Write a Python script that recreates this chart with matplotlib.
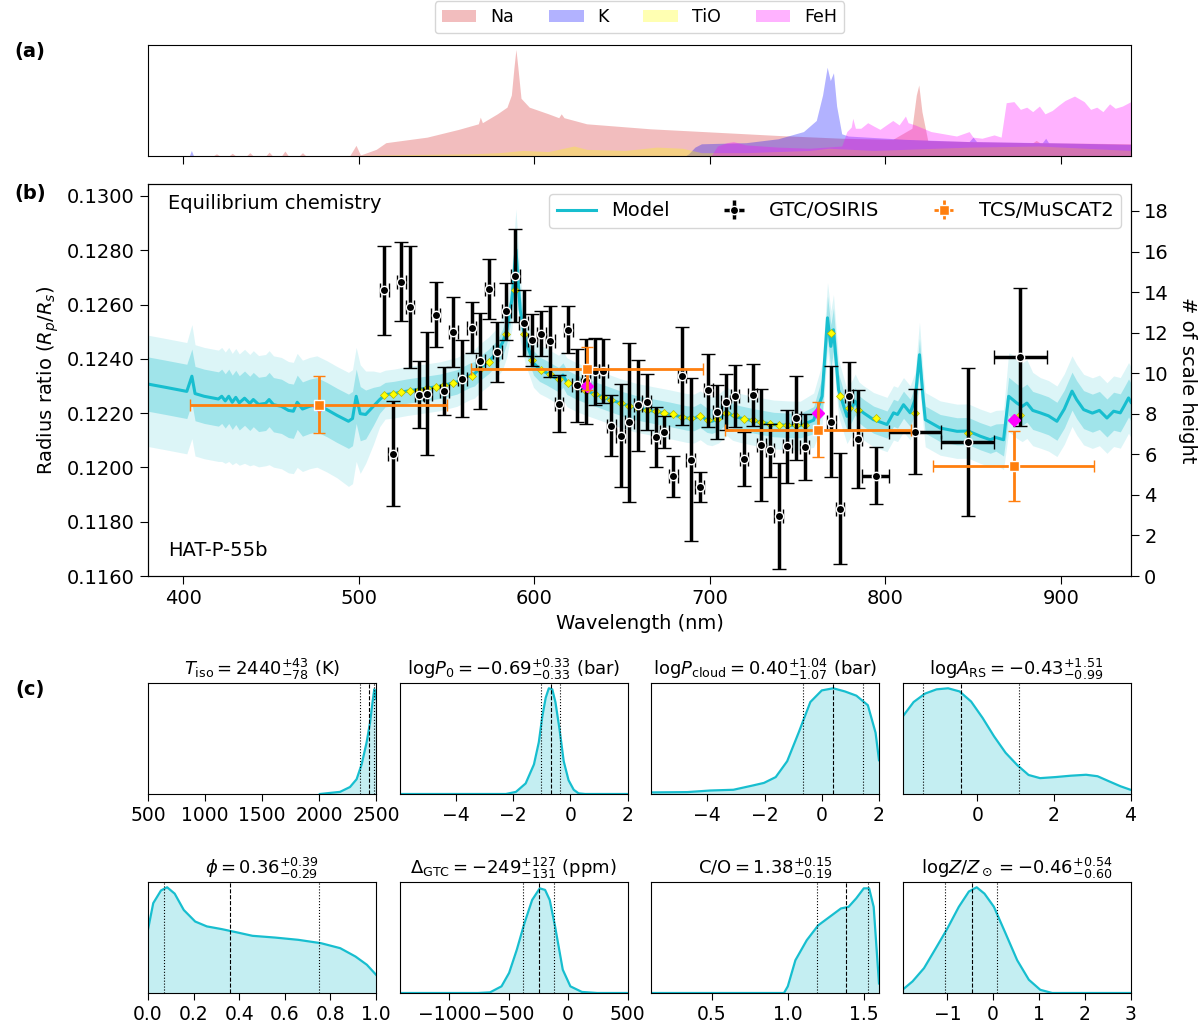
import matplotlib
matplotlib.use("Agg")
import matplotlib.pyplot as plt
from matplotlib.lines import Line2D

# ---------------- panel (a): normalised opacity contributions ----------------
na_wl = [380, 417, 419, 421, 426, 428, 430, 436, 438, 440, 447, 449, 451, 456, 458, 460,
         466, 468, 470, 495, 498.5, 501, 503, 510, 515.5, 539, 557, 568.2, 569.3, 570.5,
         579, 584.5, 587, 588.5, 589.6, 590.7, 592.5, 597.2, 608.1, 614, 615.4, 617,
         629.9, 666.2, 702.6, 738.9, 775.2, 804.3, 815.2, 817.7, 819.1, 820.9, 824.2,
         847.8, 884.1, 886, 888, 939.7]
na_op = [0, 0, 0.02, 0, 0, 0.025, 0, 0, 0.03, 0, 0, 0.035, 0, 0, 0.045, 0,
         0, 0.03, 0, 0.005, 0.096, 0.01, 0.02, 0.06, 0.12, 0.17, 0.24, 0.29, 0.35, 0.30,
         0.38, 0.44, 0.55, 0.80, 0.96, 0.80, 0.52, 0.44, 0.38, 0.345, 0.38, 0.345,
         0.29, 0.245, 0.215, 0.185, 0.16, 0.15, 0.25, 0.55, 0.64, 0.40, 0.14,
         0.13, 0.12, 0.14, 0.12, 0.11]

k_wl = [380, 403.5, 404.7, 406, 686, 688, 691.6, 695.3, 720.7, 738.9, 753.4, 760.7,
        764.3, 766.9, 768.7, 770.5, 772.3, 775.2, 778.9, 811.5, 847.8, 850, 852,
        889.5, 891.4, 893, 939.7]
k_op = [0, 0, 0.05, 0, 0, 0.02, 0.08, 0.11, 0.12, 0.155, 0.22, 0.32,
        0.55, 0.80, 0.68, 0.75, 0.45, 0.20, 0.18, 0.15, 0.13, 0.17, 0.13,
        0.12, 0.16, 0.12, 0.105]

tio_wl = [380, 500, 513.7, 539.1, 564.5, 580, 593.6, 608.1, 622.7, 629.9, 651.7, 669.9,
          684.4, 695.3, 720.7, 757.0, 767.9, 793.4, 847.8, 887.7, 939.7]
tio_op = [0, 0.005, 0.01, 0.015, 0.02, 0.03, 0.05, 0.04, 0.09, 0.06, 0.05, 0.08,
          0.07, 0.03, 0.03, 0.05, 0.07, 0.05, 0.08, 0.09, 0.05]

feh_wl = [700.7, 704.4, 709.8, 713.5, 720.7, 738.9, 757.0, 775.2, 778.1, 780.6, 781.5,
          783, 786.1, 790, 793.4, 797, 800.6, 804.3, 807.9, 811.5, 813, 817.0, 826.1,
          833.4, 840.6, 847.8, 850, 855.1, 862, 866.0, 868.9, 873.3, 877, 880.6, 884,
          887.8, 891, 895.1, 899, 902.4, 907.8, 913.3, 917, 920.5, 924, 927.8, 931,
          935.1, 939.9]
feh_op = [0, 0.09, 0.12, 0.13, 0.10, 0.08, 0.07, 0.09, 0.22, 0.26, 0.34,
          0.25, 0.25, 0.30, 0.27, 0.24, 0.28, 0.32, 0.28, 0.36, 0.30, 0.28, 0.22,
          0.20, 0.18, 0.22, 0.17, 0.16, 0.19, 0.17, 0.48, 0.49, 0.42, 0.44, 0.40,
          0.45, 0.38, 0.41, 0.46, 0.50, 0.54, 0.49, 0.42, 0.44, 0.40, 0.47, 0.43,
          0.45, 0.49]

# ---------------- panel (b): retrieved model and data ----------------
model_wl = [380.0, 390.0, 402.1, 405.0, 406.8, 412.0, 420.1, 422.0, 424.0, 426.0,
            428.0, 430.0, 432.0, 435.0, 438.0, 440.0, 443.0, 447.0, 449.0, 451.5,
            456.0, 460.0, 462.8, 465.0, 468.0, 472.0, 476.2, 481.9, 487.6, 494.2,
            496.5, 498.6, 500.9, 504.0, 508.4, 512.0, 515.1, 520.0, 527.5, 537.0,
            546.4, 556.0, 563.5, 566.0, 569.2, 574.0, 578.7, 582.0, 584.4, 587.3,
            588.6, 589.6, 590.5, 592.0, 594.9, 599.6, 603.0, 607.2, 613.9, 616.4,
            618.6, 624.0, 630.0, 640.0, 649.0, 658.0, 668.0, 677.0, 687.0, 691.0,
            694.6, 698.4, 701.2, 705.0, 709.8, 713.0, 717.4, 726.0, 736.4, 745.0,
            751.6, 759.2, 764.0, 767.1, 769.0, 770.5, 773.4, 778.2, 781.0, 782.9,
            785.0, 787.6, 793.3, 801.0, 804.7, 807.0, 810.4, 814.2, 817.0, 819.5,
            821.5, 822.8, 831.3, 840.9, 847.3, 854.1, 859.8, 863.0, 867.4, 870.3,
            875.0, 878.0, 880.7, 884.0, 888.3, 893.0, 897.8, 902.0, 906.4, 909.0,
            913.0, 918.0, 922.0, 926.3, 930.1, 933.9, 936.0, 938.6, 940.0]
model_rp = [0.12307, 0.12295, 0.12280, 0.12336, 0.12272, 0.12262, 0.12252, 0.12262, 0.12245, 0.12262,
            0.12240, 0.12258, 0.12238, 0.12255, 0.12236, 0.12250, 0.12232, 0.12236, 0.12250, 0.12231,
            0.12225, 0.12210, 0.12207, 0.12240, 0.12215, 0.12225, 0.12231, 0.12213, 0.12192, 0.12170,
            0.12180, 0.12262, 0.12198, 0.12195, 0.12225, 0.12250, 0.12268, 0.12272, 0.12281, 0.12290,
            0.12299, 0.12315, 0.12340, 0.12345, 0.12366, 0.12390, 0.12422, 0.12460, 0.12507, 0.12618,
            0.12720, 0.12802, 0.12720, 0.12581, 0.12471, 0.12385, 0.12362, 0.12348, 0.12323, 0.12340,
            0.12314, 0.12296, 0.12281, 0.12258, 0.12237, 0.12220, 0.12207, 0.12196, 0.12182, 0.12180,
            0.12192, 0.12174, 0.12170, 0.12180, 0.12207, 0.12190, 0.12182, 0.12170, 0.12158, 0.12155,
            0.12154, 0.12174, 0.12262, 0.12551, 0.12446, 0.12507, 0.12286, 0.12188, 0.12220, 0.12244,
            0.12215, 0.12201, 0.12176, 0.12158, 0.12201, 0.12195, 0.12231, 0.12201, 0.12250, 0.12415,
            0.12260, 0.12176, 0.12145, 0.12133, 0.12134, 0.12115, 0.12102, 0.12110, 0.12102, 0.12262,
            0.12237, 0.12225, 0.12237, 0.12210, 0.12201, 0.12190, 0.12170, 0.12215, 0.12281, 0.12250,
            0.12213, 0.12200, 0.12210, 0.12182, 0.12207, 0.12201, 0.12225, 0.12256, 0.12240]
# 1-sigma half width, 2-sigma upper and lower widths (units of 1e-4 in Rp/Rs)
model_s1 = [10, 10, 10, 10, 10, 10, 10, 10, 10, 10,
            10, 10, 10, 10, 10, 10, 10, 10, 10, 10,
            10, 10, 10, 10, 10, 10, 10, 10, 10, 10,
            10, 10, 10, 9, 7, 5, 4.5, 4.5, 4.5, 4.5,
            4.5, 4.5, 4.5, 4.5, 4.5, 4.5, 4.5, 5, 5, 6,
            6, 6, 6, 6, 4.5, 4.5, 4.5, 4.5, 4.5, 4.5,
            4.5, 4.5, 4.5, 4.5, 4.5, 4.5, 4.5, 4.5, 4.5, 4.5,
            4.5, 4.5, 4.5, 4.5, 4.5, 4.5, 4.5, 4.5, 4.5, 4.5,
            4.5, 5, 7, 8, 8, 8, 6, 5, 5, 5,
            5, 5, 5, 5, 5, 5, 5, 5, 5, 6,
            5, 5, 5, 5, 5, 5, 5, 5, 6, 7,
            7, 7, 7, 7, 7, 7, 7, 7, 7, 7,
            7, 7, 7, 7, 7, 7, 7, 7, 7]
model_s2u = [18, 18, 18, 19, 18, 18, 18, 18, 18, 18,
             18, 18, 18, 18, 18, 18, 18, 18, 18, 18,
             18, 18, 18, 18, 18, 18, 18, 18, 18, 18,
             18, 18, 18, 16, 13, 10, 9, 9, 9, 9,
             9, 9, 9, 9, 9, 9, 9, 10, 10, 12,
             14, 15, 14, 12, 9, 9, 9, 9, 9, 9,
             9, 9, 9, 9, 9, 9, 9, 9, 9, 9,
             9, 9, 9, 9, 9, 9, 9, 9, 9, 9,
             9, 10, 12, 13, 13, 13, 11, 10, 10, 10,
             10, 10, 10, 10, 10, 10, 10, 10, 10, 12,
             10, 10, 10, 10, 10, 10, 10, 10, 11, 16,
             17, 16, 16, 14, 13, 13, 13, 13, 13, 13,
             13, 13, 13, 13, 13, 13, 13, 13, 13]
model_s2d = [23, 23, 23, 23, 23, 23, 23, 24, 23, 24,
             23, 24, 23, 24, 23, 24, 23, 23, 24, 23,
             23, 23, 23, 24, 23, 23, 23, 23, 23, 24,
             24, 24, 22, 18, 14, 10, 9, 9, 9, 9,
             9, 9, 9, 9, 9, 9, 9, 10, 10, 11,
             12, 12, 12, 11, 9, 9, 9, 9, 9, 9,
             9, 9, 9, 9, 9, 9, 9, 9, 9, 9,
             9, 9, 9, 9, 9, 9, 9, 9, 9, 9,
             9, 10, 11, 12, 12, 12, 10, 10, 10, 10,
             10, 10, 10, 10, 10, 10, 10, 10, 10, 11,
             10, 10, 10, 10, 10, 10, 10, 10, 11, 13,
             13, 13, 13, 13, 13, 13, 13, 13, 13, 13,
             13, 13, 13, 13, 13, 13, 13, 13, 13]

gtc_wl = [514.7, 519.3, 524.2, 529.3, 534.6, 539.2, 544.0, 548.9, 554.0, 559.1,
          564.3, 569.2, 574.4, 578.9, 584.2, 589.2, 594.1, 599.0, 604.0, 609.1,
          614.2, 619.4, 624.3, 629.5, 634.4, 639.3, 644.0, 649.2, 654.1, 659.1,
          664.1, 669.2, 674.1, 679.2, 684.2, 689.2, 694.2, 699.1, 704.3, 709.2,
          714.4, 719.5, 724.4, 729.3, 734.3, 739.4, 744.3, 749.3, 754.2, 769.2,
          774.2, 779.3, 784.2, 794.5, 817.0, 847.0, 877.0]
gtc_xerr = [2.5] * 53 + [7.5, 15.0, 15.0, 15.0]
gtc_rp = [0.12653, 0.12051, 0.12684, 0.12591, 0.12268, 0.12272, 0.12562, 0.12281, 0.12499, 0.12327,
          0.12515, 0.12391, 0.12657, 0.12425, 0.12575, 0.12706, 0.12532, 0.12468, 0.12493, 0.12465,
          0.12235, 0.12507, 0.12303, 0.12317, 0.12354, 0.12356, 0.12154, 0.12117, 0.12167, 0.12229,
          0.12241, 0.12112, 0.12131, 0.11967, 0.12338, 0.12029, 0.11928, 0.12284, 0.12203, 0.12241,
          0.12262, 0.12031, 0.12268, 0.12082, 0.12063, 0.11820, 0.12078, 0.12182, 0.12074, 0.12169,
          0.11848, 0.12262, 0.12105, 0.11970, 0.12132, 0.12094, 0.12408]
gtc_err = [0.00164, 0.00193, 0.00146, 0.00224, 0.00123, 0.00227, 0.00120, 0.00089, 0.00129, 0.00142,
           0.00094, 0.00177, 0.00109, 0.00110, 0.00106, 0.00171, 0.00122, 0.00096, 0.00083, 0.00131,
           0.00106, 0.00086, 0.00134, 0.00157, 0.00123, 0.00117, 0.00112, 0.00189, 0.00293, 0.00168,
           0.00103, 0.00111, 0.00060, 0.00076, 0.00181, 0.00301, 0.00055, 0.00135, 0.00099, 0.00104,
           0.00114, 0.00099, 0.00114, 0.00206, 0.00098, 0.00195, 0.00134, 0.00154, 0.00122, 0.00204,
           0.00204, 0.00126, 0.00181, 0.00104, 0.00157, 0.00273, 0.00254]
gtc_model = [0.12268, 0.12270, 0.12276, 0.12282, 0.12287, 0.12291, 0.12296, 0.12302, 0.12310, 0.12322,
             0.12338, 0.12362, 0.12390, 0.12420, 0.12490, 0.12655, 0.12490, 0.12395, 0.12360, 0.12343,
             0.12326, 0.12312, 0.12296, 0.12282, 0.12270, 0.12259, 0.12248, 0.12237, 0.12228, 0.12220,
             0.12212, 0.12206, 0.12200, 0.12195, 0.12187, 0.12181, 0.12188, 0.12175, 0.12178, 0.12200,
             0.12192, 0.12180, 0.12173, 0.12166, 0.12160, 0.12157, 0.12155, 0.12155, 0.12156, 0.12496,
             0.12263, 0.12220, 0.12213, 0.12182, 0.12201, 0.12127, 0.12192]

tcs_wl = [477.3, 629.9, 761.7, 873.1]
tcs_xerr = [73.3, 66.0, 52.9, 46.0]
tcs_rp = [0.12231, 0.12364, 0.12139, 0.12004]
tcs_err = [0.00106, 0.00080, 0.00101, 0.00129]
tcs_model = [0.12225, 0.12299, 0.12201, 0.12174]

# ---------------- panel (c): marginalised posteriors ----------------
post_titles = [r'$T_{\rm iso} = 2440^{+43}_{-78}$ (K)',
               r'$\mathrm{log}P_0 = -0.69^{+0.33}_{-0.33}$ (bar)',
               r'$\mathrm{log}P_{\rm cloud} = 0.40^{+1.04}_{-1.07}$ (bar)',
               r'$\mathrm{log}A_{\rm RS} = -0.43^{+1.51}_{-0.99}$',
               r'$\phi = 0.36^{+0.39}_{-0.29}$',
               r'$\Delta_{\rm GTC} = -249^{+127}_{-131}$ (ppm)',
               r'$\mathrm{C/O} = 1.38^{+0.15}_{-0.19}$',
               r'$\mathrm{log}Z/Z_\odot = -0.46^{+0.54}_{-0.60}$']
post_med = [2440, -0.69, 0.40, -0.43, 0.36, -249, 1.38, -0.46]
post_up = [43, 0.33, 1.04, 1.51, 0.39, 127, 0.15, 0.54]
post_lo = [78, 0.33, 1.07, 0.99, 0.29, 131, 0.19, 0.60]
post_xlim = [(500, 2500), (-5.97, 2), (-5.97, 2), (-1.95, 4),
             (0, 1), (-1420, 500), (0.1, 1.6), (-1.98, 3)]
post_xticks = [[500, 1000, 1500, 2000, 2500], [-4, -2, 0, 2], [-4, -2, 0, 2], [0, 2, 4],
               [0.0, 0.2, 0.4, 0.6, 0.8, 1.0], [-1000, -500, 0, 500], [0.5, 1.0, 1.5],
               [-1, 0, 1, 2, 3]]

tiso_x = [2008, 2184, 2272, 2330, 2374, 2418, 2447, 2471, 2485, 2494, 2500]
tiso_y = [0, 0.02, 0.066, 0.14, 0.28, 0.49, 0.67, 0.88, 0.99, 0.97, 0.90]
logp0_x = [-5.97, -2.25, -1.9, -1.56, -1.27, -1.10, -0.98, -0.86, -0.75, -0.63, -0.52,
           -0.38, -0.23, -0.06, 0.12, 0.29, 0.52, 2]
logp0_y = [0, 0, 0.02, 0.10, 0.28, 0.49, 0.73, 0.91, 1.0, 0.99, 0.87,
           0.62, 0.31, 0.13, 0.04, 0.006, 0, 0]
logpc_x = [-5.91, -4.7, -3.9, -3.09, -2.42, -2.02, -1.61, -1.21, -0.81, -0.40, 0.0,
           0.40, 0.81, 1.21, 1.61, 1.88, 2.0]
logpc_y = [0.015, 0.018, 0.033, 0.04, 0.08, 0.105, 0.16, 0.31, 0.58, 0.87, 0.98,
           1.0, 0.97, 0.93, 0.84, 0.58, 0.32]
logars_x = [-1.95, -1.66, -1.36, -1.06, -0.76, -0.46, -0.16, 0.14, 0.44, 0.74, 1.04,
            1.34, 1.64, 2.04, 2.44, 2.84, 3.14, 3.44, 3.74, 4.0]
logars_y = [0.73, 0.87, 0.95, 0.99, 1.0, 0.97, 0.875, 0.72, 0.545, 0.39, 0.275,
            0.18, 0.15, 0.16, 0.173, 0.182, 0.168, 0.12, 0.073, 0.04]
phi_x = [0, 0.023, 0.057, 0.084, 0.117, 0.157, 0.207, 0.258, 0.324, 0.391, 0.458,
         0.559, 0.659, 0.759, 0.843, 0.91, 0.96, 1.0]
phi_y = [0.60, 0.85, 0.97, 1.0, 0.94, 0.785, 0.676, 0.63, 0.604, 0.573, 0.541,
         0.524, 0.503, 0.471, 0.424, 0.345, 0.267, 0.173]
dgtc_x = [-1420, -760, -658, -561, -497, -432, -368, -303, -239, -194, -155, -110, -45,
          19, 116, 245, 500]
dgtc_y = [0, 0, 0.006, 0.063, 0.19, 0.41, 0.66, 0.88, 0.99, 0.975, 0.88, 0.63, 0.22,
          0.063, 0.01, 0, 0]
co_x = [0.1, 0.975, 1.0, 1.05, 1.125, 1.20, 1.275, 1.35, 1.40, 1.45, 1.50, 1.535,
        1.565, 1.60]
co_y = [0, 0, 0.063, 0.31, 0.50, 0.64, 0.72, 0.80, 0.815, 0.895, 0.99, 0.99,
        0.815, 0.09]
logz_x = [-1.98, -1.76, -1.51, -1.25, -1.0, -0.75, -0.53, -0.36, -0.19, 0.017, 0.27,
          0.525, 0.78, 1.03, 1.29, 3.0]
logz_y = [0.03, 0.11, 0.235, 0.425, 0.61, 0.815, 0.96, 1.0, 0.94, 0.815, 0.565,
          0.31, 0.125, 0.03, 0, 0]

post_x = [tiso_x, logp0_x, logpc_x, logars_x, phi_x, dgtc_x, co_x, logz_x]
post_y = [tiso_y, logp0_y, logpc_y, logars_y, phi_y, dgtc_y, co_y, logz_y]

CYAN = '#17becf'
ORANGE = '#ff7f0e'
W, H = 1200, 1024


def px_rect(left, top, width, height):
    return [left / W, 1 - (top + height) / H, width / W, height / H]


def plot_opacities(fig):
    ax = fig.add_axes(px_rect(148, 45, 983, 111))
    ax.fill_between(na_wl, 0, na_op, color='#d62728', alpha=0.3, lw=0, label='Na')
    ax.fill_between(k_wl, 0, k_op, color='blue', alpha=0.3, lw=0, label='K')
    ax.fill_between(tio_wl, 0, tio_op, color='yellow', alpha=0.3, lw=0, label='TiO')
    ax.fill_between(feh_wl, 0, feh_op, color='magenta', alpha=0.3, lw=0, label='FeH')
    ax.set_xlim(380, 940)
    ax.set_ylim(0, 1)
    ax.set_xticks([400, 500, 600, 700, 800, 900])
    ax.set_xticklabels([])
    ax.tick_params(length=6)
    ax.set_yticks([])
    ax.legend(loc='lower center', bbox_to_anchor=(0.5, 1.105), ncol=4, fontsize=12.5,
              borderaxespad=0, handlelength=2.0, columnspacing=2.0)


def plot_spectrum(fig):
    ax = fig.add_axes(px_rect(148, 184, 983, 392))
    up1 = [r + s * 1e-4 for r, s in zip(model_rp, model_s1)]
    dn1 = [r - s * 1e-4 for r, s in zip(model_rp, model_s1)]
    up2 = [r + s * 1e-4 for r, s in zip(model_rp, model_s2u)]
    dn2 = [r - s * 1e-4 for r, s in zip(model_rp, model_s2d)]
    ax.fill_between(model_wl, dn2, up2, color=CYAN, alpha=0.15, lw=0, zorder=1)
    ax.fill_between(model_wl, dn1, up1, color=CYAN, alpha=0.3, lw=0, zorder=1)
    ax.plot(model_wl, model_rp, color=CYAN, lw=2.2, zorder=2)
    ax.plot(gtc_wl, gtc_model, 'D', color='yellow', ms=4, mec='#b5b500', mew=0.5, zorder=3)

    ax.errorbar(gtc_wl, gtc_rp, yerr=gtc_err, xerr=gtc_xerr, fmt='o', color='black',
                ms=6, mec='white', mew=1, elinewidth=2.5, capsize=5, capthick=1.5, zorder=4)
    ax.plot(tcs_wl, tcs_model, 'D', color='magenta', ms=6, zorder=4.5)
    ax.errorbar(tcs_wl, tcs_rp, yerr=tcs_err, xerr=tcs_xerr, fmt='s', color=ORANGE,
                ms=7, mec='white', mew=1, elinewidth=2, capsize=4, capthick=1.5, zorder=5)

    ylo, yhi = 0.1160, 0.13044
    ax.set_xlim(380, 940)
    ax.set_ylim(ylo, yhi)
    ax.set_yticks([0.116, 0.118, 0.120, 0.122, 0.124, 0.126, 0.128, 0.130])
    ax.set_yticklabels(['%.4f' % t for t in ax.get_yticks()])
    ax.tick_params(labelsize=14, length=6)
    ax.set_xlabel('Wavelength (nm)', fontsize=14)
    ax.set_ylabel(r'Radius ratio ($R_p/R_s$)', fontsize=14)
    ax.text(0.02, 0.975, 'Equilibrium chemistry', transform=ax.transAxes, fontsize=14,
            va='top', ha='left')
    ax.text(0.02, 0.04, 'HAT-P-55b', transform=ax.transAxes, fontsize=14,
            va='bottom', ha='left')

    handles = [Line2D([], [], color=CYAN, lw=2.2),
               ax.errorbar([], [], yerr=[], xerr=[], fmt='o', color='black', ms=6, mec='white',
                           elinewidth=2.5, capsize=5),
               ax.errorbar([], [], yerr=[], xerr=[], fmt='s', color=ORANGE, ms=7, mec='white',
                           elinewidth=2, capsize=4)]
    ax.legend(handles, ['Model', 'GTC/OSIRIS', 'TCS/MuSCAT2'], loc='upper right', ncol=3,
              fontsize=14, columnspacing=2.3)

    hscale = 0.000747
    ax2 = ax.twinx()
    ax2.set_ylim(0, (yhi - ylo) / hscale)
    ax2.set_yticks(range(0, 19, 2))
    ax2.tick_params(labelsize=14, length=6)
    ax2.set_ylabel('# of scale height', fontsize=14, rotation=270, labelpad=20)


def plot_posteriors(fig):
    lefts = [148, 399.5, 651, 902.5]
    tops = [683, 882]
    for i in range(8):
        ax = fig.add_axes(px_rect(lefts[i % 4], tops[i // 4], 228, 111))
        ax.fill_between(post_x[i], 0, post_y[i], color=CYAN, alpha=0.25, lw=0)
        ax.plot(post_x[i], post_y[i], color=CYAN, lw=1.6)
        med = post_med[i]
        ax.axvline(med, color='black', ls='--', lw=0.8)
        ax.axvline(med - post_lo[i], color='black', ls=':', lw=0.8)
        ax.axvline(med + post_up[i], color='black', ls=':', lw=0.8)
        ax.set_xlim(*post_xlim[i])
        ax.set_ylim(0, 1.05)
        ax.set_xticks(post_xticks[i])
        if i == 4:
            ax.set_xticklabels(['%.1f' % t for t in post_xticks[i]])
        ax.set_yticks([])
        ax.tick_params(labelsize=13.5, length=5)
        ax.set_title(post_titles[i], fontsize=13, pad=6)


def main():
    fig = plt.figure(figsize=(12, 10.24), dpi=100)
    plot_opacities(fig)
    plot_spectrum(fig)
    plot_posteriors(fig)

    for label, y in [('(a)', 52), ('(b)', 193), ('(c)', 690)]:
        fig.text(30 / W, 1 - y / H, label, fontsize=14, fontweight='bold',
                 ha='center', va='center')

    fig.savefig('out.png', dpi=100)


if __name__ == "__main__":
    main()
